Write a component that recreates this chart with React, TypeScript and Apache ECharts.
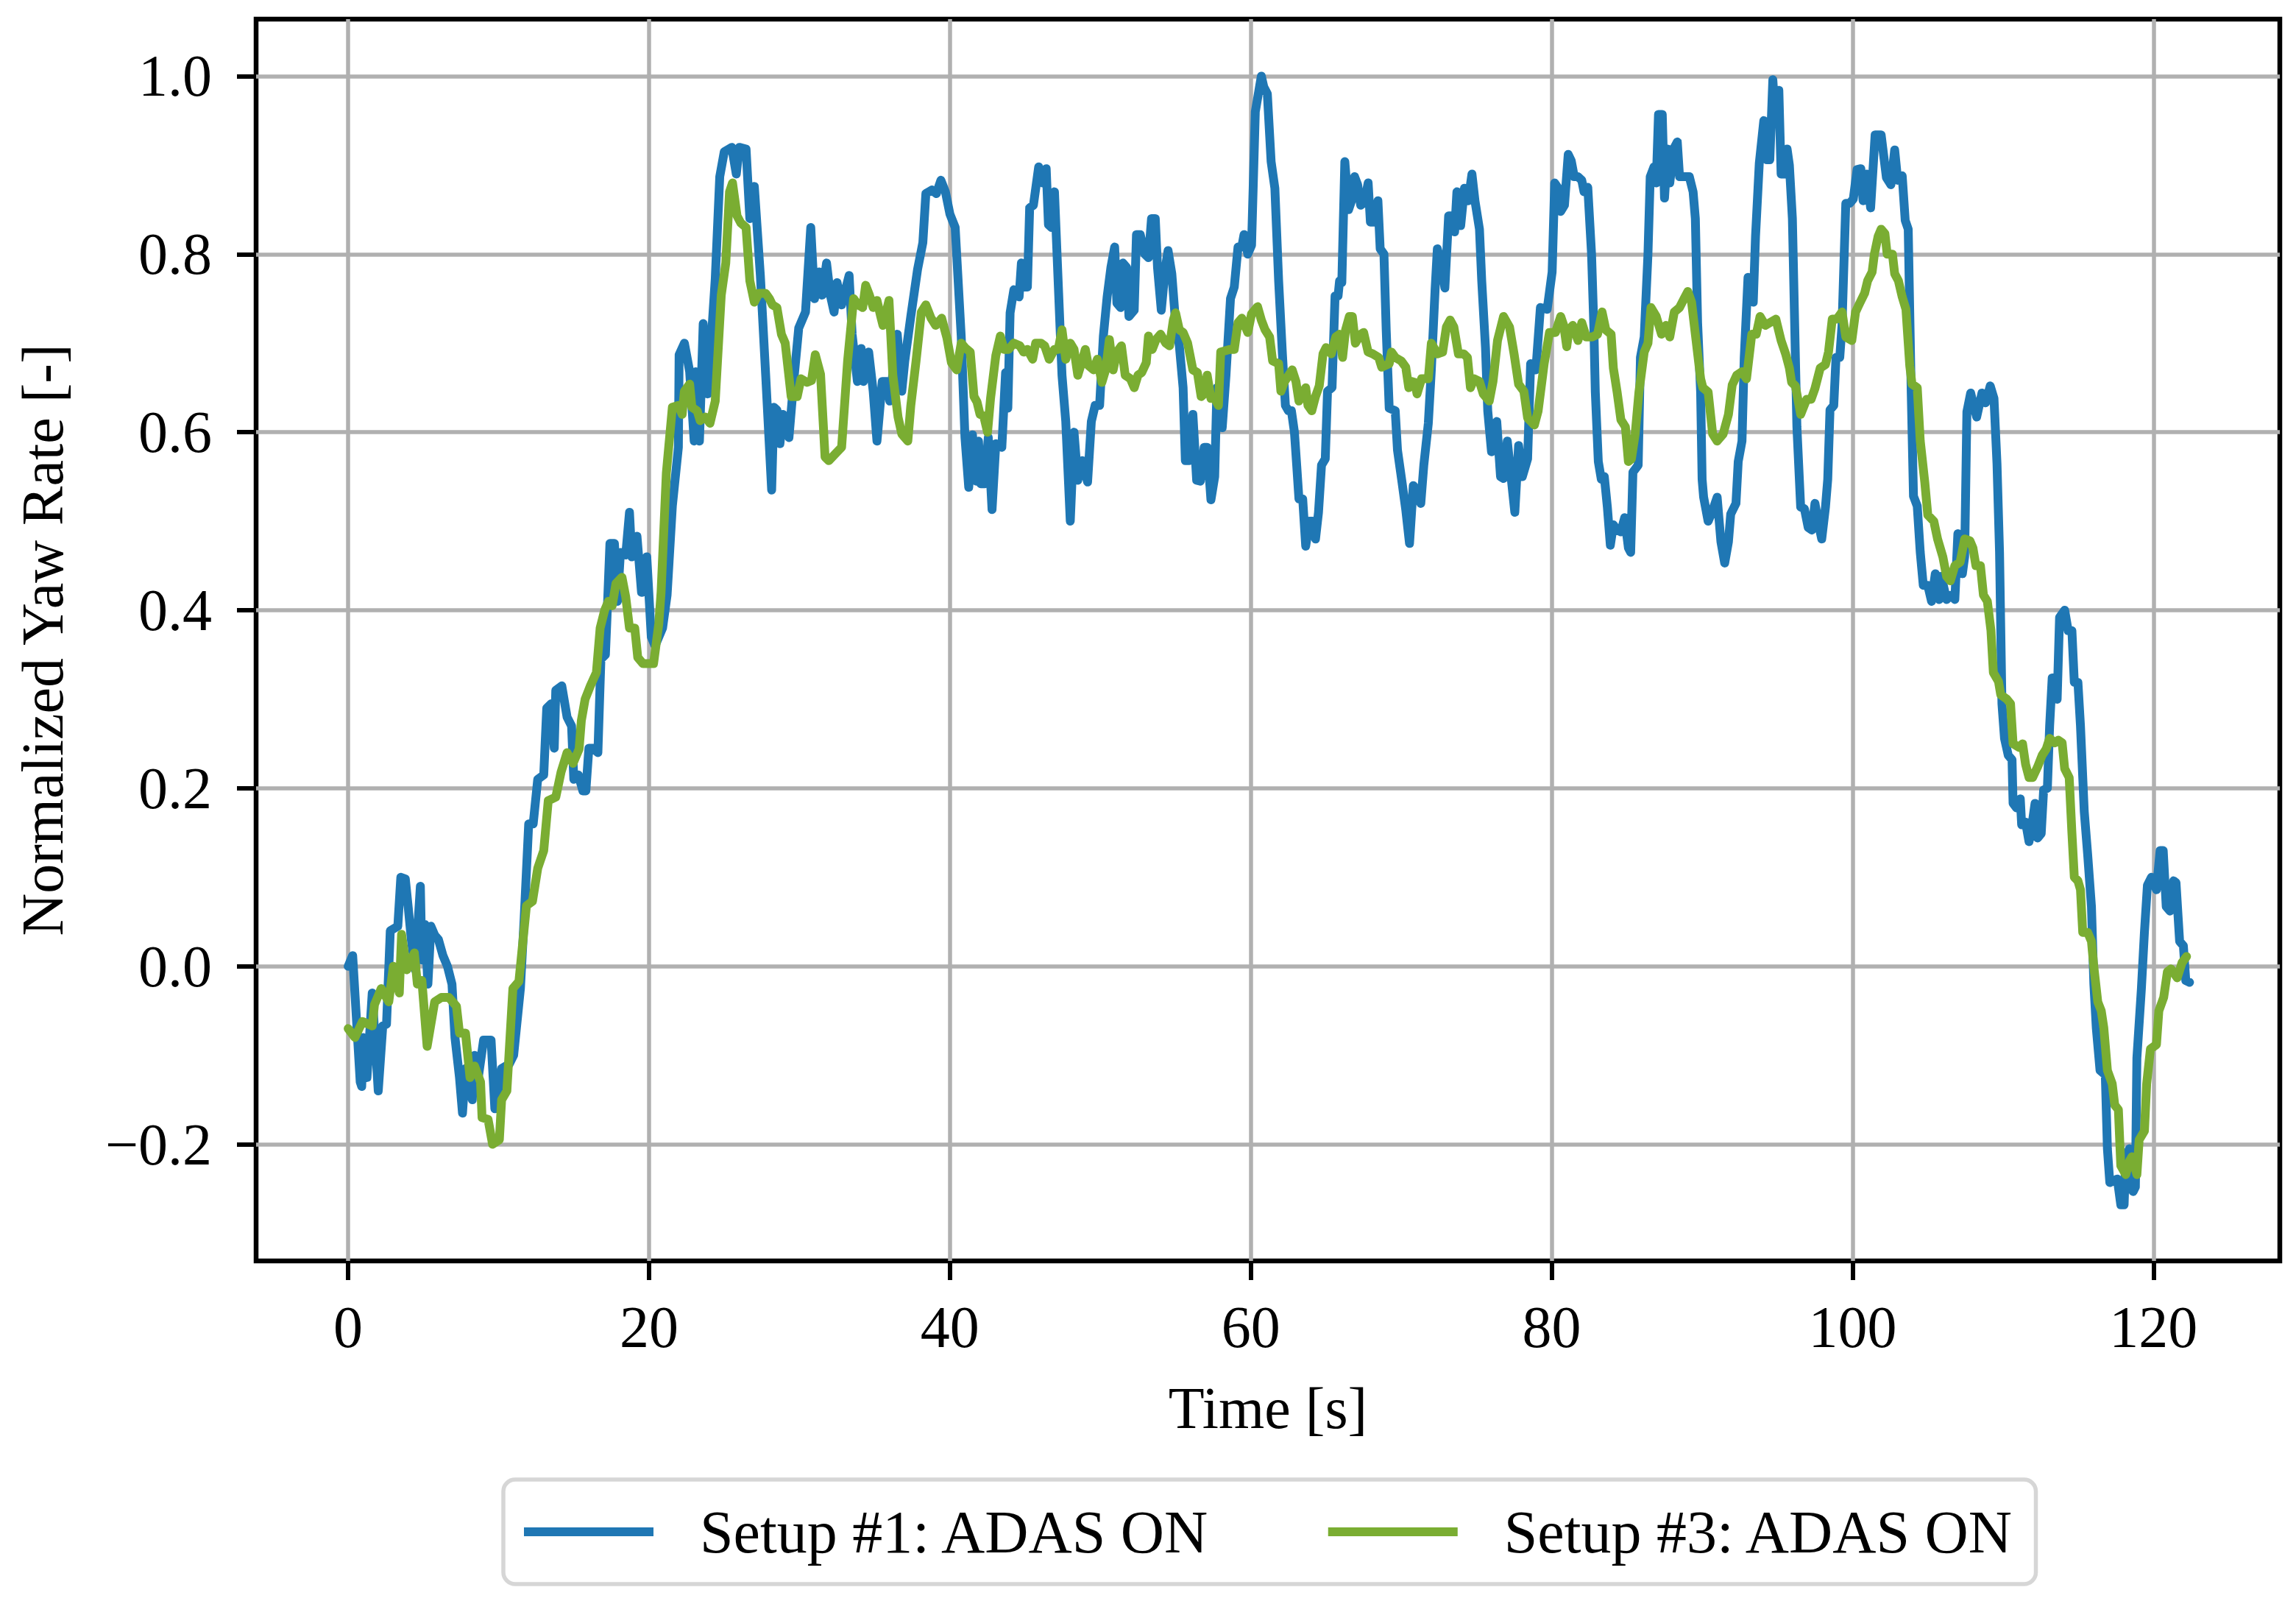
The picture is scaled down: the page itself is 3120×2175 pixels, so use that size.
import React, { useEffect, useRef } from 'react';
import * as echarts from 'echarts';

// time [s], normalized yaw rate [-]
const setup1Data: [number, number][] = [
  [0, 0.0], [0.3, 0.012], [0.8, -0.13], [0.9, -0.135], [1.0, -0.08], [1.25, -0.125], [1.6, -0.03],
  [2.0, -0.14], [2.3, -0.067], [2.55, -0.065], [2.8, 0.04], [3.3, 0.045], [3.5, 0.1], [3.8, 0.098],
  [4.0, 0.065], [4.2, 0.03], [4.45, -0.004], [4.8, 0.09], [4.9, 0.007], [5.1, 0.047], [5.3, -0.02],
  [5.5, 0.045], [5.75, 0.035], [6.0, 0.03], [6.3, 0.012], [6.6, 0.0], [6.9, -0.02], [7.1, -0.08],
  [7.4, -0.125], [7.6, -0.165], [7.8, -0.115], [8.0, -0.125], [8.25, -0.15], [8.4, -0.1], [8.65, -0.125],
  [9.0, -0.083], [9.5, -0.083], [9.75, -0.16], [10.05, -0.135], [10.2, -0.115], [10.7, -0.11], [11.0, -0.1],
  [11.45, -0.025], [11.7, 0.054], [12.0, 0.16], [12.3, 0.16], [12.6, 0.21], [13.0, 0.215], [13.2, 0.29],
  [13.5, 0.295], [13.7, 0.245], [13.8, 0.31], [14.2, 0.315], [14.55, 0.28], [14.85, 0.27], [15.0, 0.21],
  [15.3, 0.215], [15.6, 0.197], [15.8, 0.197], [16.0, 0.245], [16.3, 0.245], [16.6, 0.24], [16.8, 0.345],
  [17.1, 0.35], [17.2, 0.39], [17.4, 0.475], [17.7, 0.475], [17.9, 0.41], [18.1, 0.465], [18.45, 0.462],
  [18.7, 0.51], [18.85, 0.46], [19.2, 0.483], [19.5, 0.42], [19.85, 0.46], [20.15, 0.37], [20.4, 0.36],
  [20.9, 0.38], [21.2, 0.417], [21.55, 0.517], [21.95, 0.583], [22.0, 0.687], [22.35, 0.7], [22.7, 0.668],
  [23.0, 0.59], [23.1, 0.668], [23.35, 0.59], [23.6, 0.722], [23.9, 0.643], [24.4, 0.772], [24.7, 0.887],
  [25.0, 0.915], [25.5, 0.92], [25.8, 0.89], [26.0, 0.92], [26.45, 0.918], [26.7, 0.84], [27.0, 0.876],
  [27.4, 0.776], [27.75, 0.665], [28.15, 0.535], [28.3, 0.628], [28.5, 0.625], [28.7, 0.587], [28.9, 0.62],
  [29.3, 0.594], [29.6, 0.654], [29.95, 0.717], [30.4, 0.735], [30.75, 0.83], [31.0, 0.75], [31.3, 0.78],
  [31.5, 0.754], [31.8, 0.79], [32.05, 0.754], [32.3, 0.735], [32.5, 0.768], [32.8, 0.743], [33.3, 0.776],
  [33.5, 0.71], [33.85, 0.657], [34.1, 0.694], [34.25, 0.657], [34.6, 0.69], [34.9, 0.646], [35.15, 0.59],
  [35.5, 0.657], [35.8, 0.657], [36.0, 0.635], [36.5, 0.71], [36.8, 0.646], [37.0, 0.68], [37.4, 0.73],
  [37.85, 0.783], [38.2, 0.813], [38.4, 0.868], [38.8, 0.872], [39.1, 0.868], [39.4, 0.883], [39.7, 0.87],
  [40.0, 0.845], [40.35, 0.83], [40.75, 0.708], [41.0, 0.594], [41.25, 0.538], [41.5, 0.597], [41.75, 0.545],
  [41.9, 0.59], [42.05, 0.542], [42.3, 0.542], [42.55, 0.594], [42.8, 0.513], [43.05, 0.587], [43.45, 0.583],
  [43.7, 0.667], [43.85, 0.627], [44.0, 0.734], [44.25, 0.76], [44.6, 0.752], [44.75, 0.79], [45.0, 0.763],
  [45.15, 0.763], [45.3, 0.852], [45.55, 0.855], [45.9, 0.898], [46.15, 0.88], [46.4, 0.896], [46.55, 0.833],
  [46.75, 0.83], [46.95, 0.87], [47.2, 0.767], [47.45, 0.664], [47.7, 0.612], [48.0, 0.5], [48.25, 0.6],
  [48.5, 0.546], [48.8, 0.568], [49.15, 0.544], [49.4, 0.612], [49.65, 0.63], [49.95, 0.63], [50.2, 0.708],
  [50.45, 0.752], [50.7, 0.785], [50.95, 0.808], [51.1, 0.745], [51.35, 0.74], [51.5, 0.79], [51.75, 0.785],
  [51.9, 0.73], [52.25, 0.737], [52.4, 0.822], [52.65, 0.822], [52.95, 0.8], [53.2, 0.796], [53.4, 0.84],
  [53.65, 0.84], [53.8, 0.785], [54.05, 0.737], [54.3, 0.782], [54.5, 0.804], [54.75, 0.778], [55.0, 0.723],
  [55.25, 0.697], [55.5, 0.65], [55.65, 0.568], [55.9, 0.568], [56.15, 0.62], [56.4, 0.546], [56.65, 0.545],
  [56.9, 0.583], [57.1, 0.583], [57.35, 0.524], [57.6, 0.55], [57.75, 0.65], [58.1, 0.605], [58.35, 0.664],
  [58.65, 0.75], [58.9, 0.763], [59.15, 0.808], [59.4, 0.808], [59.55, 0.822], [59.8, 0.8], [60.05, 0.81],
  [60.3, 0.96], [60.55, 0.985], [60.7, 1.0], [60.86, 0.988], [61.1, 0.98], [61.35, 0.904], [61.6, 0.874],
  [61.85, 0.77], [62.1, 0.688], [62.3, 0.63], [62.5, 0.624], [62.7, 0.624], [62.9, 0.6], [63.05, 0.563],
  [63.2, 0.525], [63.45, 0.525], [63.65, 0.472], [63.9, 0.5], [64.1, 0.5], [64.3, 0.48], [64.5, 0.51],
  [64.7, 0.563], [64.95, 0.57], [65.1, 0.646], [65.4, 0.65], [65.6, 0.753], [65.8, 0.753], [65.9, 0.77],
  [66.05, 0.768], [66.25, 0.904], [66.5, 0.85], [66.7, 0.86], [66.9, 0.887], [67.1, 0.878], [67.3, 0.855],
  [67.55, 0.858], [67.8, 0.88], [67.95, 0.836], [68.2, 0.836], [68.45, 0.86], [68.6, 0.806], [68.85, 0.8],
  [69.0, 0.715], [69.2, 0.627], [69.6, 0.624], [69.75, 0.58], [70.05, 0.544], [70.3, 0.513], [70.55, 0.475],
  [70.8, 0.54], [71.0, 0.536], [71.3, 0.52], [71.5, 0.563], [71.8, 0.61], [72.0, 0.67], [72.25, 0.76],
  [72.4, 0.806], [72.65, 0.79], [72.9, 0.762], [73.15, 0.843], [73.35, 0.843], [73.55, 0.825], [73.7, 0.87],
  [73.95, 0.832], [74.2, 0.874], [74.45, 0.86], [74.7, 0.89], [74.9, 0.86], [75.2, 0.828], [75.35, 0.77],
  [75.6, 0.695], [75.75, 0.624], [76.0, 0.578], [76.35, 0.612], [76.6, 0.55], [76.8, 0.548], [77.05, 0.59],
  [77.3, 0.55], [77.55, 0.51], [77.8, 0.585], [78.05, 0.55], [78.4, 0.57], [78.6, 0.677], [78.95, 0.67],
  [79.25, 0.74], [79.7, 0.738], [80.03, 0.78], [80.2, 0.88], [80.4, 0.875], [80.6, 0.848], [80.85, 0.855],
  [81.1, 0.912], [81.3, 0.905], [81.5, 0.887], [81.75, 0.887], [82.0, 0.883], [82.15, 0.87], [82.4, 0.875],
  [82.65, 0.8], [82.8, 0.72], [82.9, 0.645], [83.1, 0.567], [83.3, 0.547], [83.5, 0.55], [83.7, 0.516],
  [83.9, 0.473], [84.1, 0.496], [84.35, 0.49], [84.6, 0.488], [84.85, 0.504], [85.1, 0.47], [85.25, 0.465],
  [85.4, 0.555], [85.75, 0.563], [85.9, 0.684], [86.15, 0.707], [86.4, 0.8], [86.55, 0.887], [86.8, 0.898],
  [86.95, 0.88], [87.1, 0.957], [87.35, 0.957], [87.5, 0.863], [87.7, 0.918], [87.85, 0.88], [88.1, 0.918],
  [88.35, 0.926], [88.5, 0.887], [89.15, 0.887], [89.4, 0.87], [89.55, 0.84], [89.7, 0.723], [89.9, 0.645],
  [90.0, 0.547], [90.1, 0.527], [90.4, 0.5], [90.7, 0.512], [91.0, 0.527], [91.25, 0.477], [91.5, 0.453],
  [91.75, 0.477], [91.9, 0.508], [92.25, 0.52], [92.4, 0.567], [92.65, 0.59], [92.8, 0.684], [93.05, 0.774],
  [93.4, 0.746], [93.55, 0.82], [93.8, 0.902], [94.1, 0.95], [94.3, 0.906], [94.5, 0.906], [94.7, 0.996],
  [94.85, 0.957], [95.1, 0.984], [95.25, 0.89], [95.5, 0.89], [95.65, 0.918], [95.8, 0.9], [96.0, 0.84],
  [96.15, 0.723], [96.3, 0.606], [96.55, 0.516], [96.8, 0.514], [97.05, 0.493], [97.3, 0.49], [97.5, 0.52],
  [97.75, 0.496], [97.95, 0.48], [98.2, 0.516], [98.35, 0.547], [98.5, 0.625], [98.75, 0.63], [98.9, 0.684],
  [99.15, 0.684], [99.3, 0.72], [99.55, 0.857], [99.8, 0.857], [100.05, 0.862], [100.3, 0.895], [100.55, 0.896],
  [100.7, 0.86], [100.95, 0.89], [101.2, 0.852], [101.5, 0.934], [101.9, 0.934], [102.25, 0.886], [102.55, 0.878],
  [102.8, 0.917], [103.0, 0.883], [103.3, 0.888], [103.5, 0.838], [103.7, 0.828], [103.9, 0.644], [104.05, 0.528],
  [104.3, 0.517], [104.5, 0.465], [104.7, 0.428], [105.0, 0.428], [105.25, 0.41], [105.5, 0.441], [105.75, 0.412],
  [105.9, 0.438], [106.25, 0.412], [106.55, 0.417], [106.8, 0.412], [107.0, 0.486], [107.3, 0.441], [107.45, 0.46],
  [107.6, 0.623], [107.85, 0.644], [108.05, 0.63], [108.25, 0.617], [108.6, 0.644], [108.85, 0.633], [109.15, 0.652],
  [109.4, 0.638], [109.6, 0.565], [109.77, 0.465], [109.93, 0.295], [110.1, 0.256], [110.35, 0.237], [110.6, 0.232],
  [110.67, 0.183], [110.9, 0.178], [111.15, 0.188], [111.24, 0.159], [111.5, 0.162], [111.73, 0.14], [111.97, 0.164],
  [112.13, 0.183], [112.3, 0.144], [112.54, 0.149], [112.7, 0.198], [112.95, 0.2], [113.1, 0.27], [113.27, 0.324],
  [113.45, 0.324], [113.6, 0.3], [113.76, 0.392], [114.1, 0.4], [114.33, 0.377], [114.58, 0.377], [114.74, 0.319],
  [114.98, 0.319], [115.15, 0.27], [115.4, 0.174], [115.63, 0.125], [115.88, 0.067], [116.04, -0.02], [116.2, -0.069],
  [116.45, -0.117], [116.8, -0.122], [116.94, -0.205], [117.1, -0.243], [117.6, -0.239], [117.83, -0.268],
  [118.05, -0.268], [118.16, -0.214], [118.4, -0.205], [118.65, -0.253], [118.8, -0.248], [118.9, -0.103],
  [119.2, -0.025], [119.4, 0.038], [119.6, 0.091], [119.87, 0.1], [120.2, 0.086], [120.44, 0.13], [120.65, 0.13],
  [120.85, 0.067], [121.1, 0.062], [121.34, 0.096], [121.5, 0.094], [121.74, 0.028], [121.99, 0.023],
  [122.15, -0.016], [122.4, -0.018],
];

const setup3Data: [number, number][] = [
  [0, -0.07], [0.45, -0.08], [0.95, -0.062], [1.6, -0.067], [1.75, -0.043], [2.2, -0.025], [2.7, -0.04],
  [3.0, 0.0], [3.4, -0.03], [3.55, 0.036], [3.9, -0.004], [4.4, 0.015], [4.6, -0.02], [4.9, -0.016],
  [5.25, -0.09], [5.75, -0.04], [6.2, -0.035], [6.7, -0.035], [7.2, -0.045], [7.4, -0.075], [7.8, -0.075],
  [8.1, -0.125], [8.4, -0.112], [8.8, -0.13], [8.9, -0.17], [9.3, -0.172], [9.6, -0.2], [10.05, -0.195],
  [10.2, -0.15], [10.55, -0.14], [10.95, -0.025], [11.35, -0.017], [11.85, 0.068], [12.25, 0.073], [12.6, 0.11],
  [13.0, 0.13], [13.3, 0.186], [13.8, 0.19], [14.15, 0.218], [14.55, 0.24], [14.95, 0.228], [15.35, 0.244],
  [15.5, 0.276], [15.75, 0.3], [16.1, 0.315], [16.5, 0.33], [16.75, 0.38], [17.05, 0.4], [17.3, 0.41],
  [17.55, 0.405], [17.8, 0.43], [18.2, 0.437], [18.45, 0.415], [18.7, 0.38], [19.05, 0.38], [19.25, 0.347],
  [19.6, 0.34], [20.3, 0.34], [20.65, 0.385], [20.8, 0.42], [21.15, 0.554], [21.55, 0.628], [21.95, 0.63],
  [22.2, 0.62], [22.35, 0.646], [22.7, 0.654], [22.85, 0.628], [23.2, 0.624], [23.4, 0.613], [23.75, 0.617],
  [24.05, 0.61], [24.4, 0.635], [24.8, 0.754], [25.1, 0.79], [25.35, 0.87], [25.55, 0.88], [25.85, 0.843],
  [26.1, 0.835], [26.45, 0.83], [26.7, 0.77], [27.0, 0.746], [27.3, 0.756], [27.75, 0.756], [28.0, 0.75],
  [28.2, 0.743], [28.5, 0.74], [28.8, 0.71], [29.05, 0.7], [29.45, 0.64], [29.85, 0.64], [30.1, 0.66],
  [30.5, 0.656], [30.8, 0.658], [31.05, 0.687], [31.4, 0.665], [31.7, 0.572], [31.95, 0.568], [32.4, 0.576],
  [32.8, 0.583], [33.2, 0.68], [33.6, 0.75], [33.9, 0.743], [34.2, 0.74], [34.4, 0.765], [34.65, 0.754],
  [34.9, 0.74], [35.15, 0.748], [35.4, 0.73], [35.55, 0.72], [35.95, 0.748], [36.2, 0.665], [36.55, 0.617],
  [36.8, 0.598], [37.2, 0.59], [37.4, 0.63], [37.75, 0.68], [38.1, 0.735], [38.4, 0.743], [38.75, 0.728],
  [39.05, 0.72], [39.45, 0.728], [39.8, 0.706], [40.1, 0.678], [40.45, 0.67], [40.75, 0.7], [41.0, 0.695],
  [41.35, 0.69], [41.6, 0.64], [41.8, 0.634], [42.0, 0.62], [42.25, 0.618], [42.5, 0.6], [42.7, 0.638],
  [43.05, 0.686], [43.35, 0.708], [43.6, 0.693], [43.9, 0.693], [44.25, 0.7], [44.65, 0.697], [44.9, 0.69],
  [45.15, 0.693], [45.5, 0.682], [45.7, 0.7], [46.05, 0.7], [46.3, 0.697], [46.6, 0.682], [46.95, 0.693],
  [47.2, 0.693], [47.45, 0.715], [47.7, 0.682], [48.0, 0.7], [48.25, 0.693], [48.5, 0.664], [48.75, 0.678],
  [49.0, 0.693], [49.2, 0.675], [49.55, 0.67], [49.8, 0.682], [50.1, 0.656], [50.35, 0.67], [50.6, 0.704],
  [50.85, 0.67], [51.1, 0.69], [51.4, 0.697], [51.65, 0.664], [52.0, 0.66], [52.25, 0.65], [52.5, 0.664],
  [52.75, 0.667], [53.05, 0.678], [53.2, 0.708], [53.45, 0.693], [53.7, 0.704], [54.0, 0.71], [54.35, 0.7],
  [54.6, 0.697], [54.85, 0.726], [55.0, 0.734], [55.25, 0.715], [55.5, 0.712], [55.8, 0.7], [56.15, 0.67],
  [56.45, 0.667], [56.7, 0.64], [56.9, 0.643], [57.1, 0.664], [57.35, 0.638], [57.6, 0.638], [57.85, 0.63],
  [58.0, 0.69], [58.6, 0.693], [58.9, 0.693], [59.15, 0.723], [59.4, 0.728], [59.8, 0.712], [60.05, 0.733],
  [60.45, 0.741], [60.7, 0.726], [60.95, 0.715], [61.25, 0.707], [61.45, 0.68], [61.85, 0.677], [62.0, 0.646],
  [62.25, 0.657], [62.75, 0.67], [63.0, 0.657], [63.2, 0.635], [63.65, 0.65], [63.8, 0.63], [64.05, 0.624],
  [64.3, 0.64], [64.55, 0.652], [64.8, 0.688], [65.0, 0.695], [65.35, 0.688], [65.65, 0.707], [65.9, 0.71],
  [66.1, 0.684], [66.3, 0.715], [66.55, 0.73], [66.75, 0.73], [66.95, 0.7], [67.3, 0.71], [67.5, 0.712],
  [67.8, 0.69], [68.1, 0.688], [68.5, 0.684], [68.7, 0.673], [69.2, 0.677], [69.35, 0.69], [69.6, 0.684],
  [70.0, 0.68], [70.3, 0.673], [70.5, 0.65], [70.7, 0.657], [70.9, 0.656], [71.05, 0.643], [71.35, 0.66],
  [71.8, 0.66], [72.0, 0.7], [72.4, 0.688], [72.75, 0.69], [73.0, 0.718], [73.25, 0.726], [73.5, 0.718],
  [73.8, 0.688], [74.15, 0.688], [74.4, 0.684], [74.6, 0.65], [74.85, 0.66], [75.2, 0.657], [75.45, 0.643],
  [75.85, 0.635], [76.1, 0.657], [76.4, 0.703], [76.8, 0.73], [77.2, 0.718], [77.5, 0.688], [77.8, 0.654],
  [78.15, 0.646], [78.4, 0.616], [78.85, 0.608], [79.1, 0.624], [79.5, 0.677], [79.85, 0.712], [80.25, 0.712],
  [80.6, 0.73], [80.8, 0.72], [81.0, 0.696], [81.15, 0.715], [81.4, 0.72], [81.75, 0.703], [82.0, 0.723],
  [82.3, 0.707], [82.7, 0.707], [83.05, 0.71], [83.35, 0.735], [83.6, 0.715], [83.95, 0.71], [84.1, 0.672],
  [84.35, 0.645], [84.6, 0.614], [84.9, 0.606], [85.1, 0.567], [85.3, 0.57], [85.55, 0.598], [85.8, 0.645],
  [86.15, 0.69], [86.4, 0.7], [86.6, 0.74], [86.95, 0.73], [87.3, 0.71], [87.6, 0.72], [87.85, 0.707],
  [88.15, 0.735], [88.5, 0.74], [88.8, 0.75], [89.05, 0.758], [89.3, 0.746], [89.55, 0.71], [89.9, 0.66],
  [90.05, 0.65], [90.4, 0.645], [90.7, 0.598], [91.0, 0.59], [91.4, 0.598], [91.75, 0.62], [92.0, 0.653],
  [92.3, 0.664], [92.65, 0.668], [92.95, 0.66], [93.3, 0.71], [93.6, 0.71], [93.85, 0.73], [94.2, 0.72],
  [94.5, 0.723], [94.9, 0.727], [95.25, 0.703], [95.55, 0.688], [95.8, 0.672], [95.95, 0.656], [96.2, 0.652],
  [96.55, 0.62], [96.95, 0.637], [97.25, 0.637], [97.5, 0.649], [97.85, 0.672], [98.2, 0.676], [98.4, 0.69],
  [98.65, 0.727], [98.95, 0.727], [99.3, 0.735], [99.55, 0.707], [99.95, 0.703], [100.2, 0.735], [100.45, 0.744],
  [100.8, 0.756], [101.0, 0.77], [101.3, 0.78], [101.45, 0.8], [101.7, 0.82], [101.9, 0.828], [102.15, 0.823],
  [102.3, 0.8], [102.65, 0.8], [102.8, 0.778], [103.05, 0.77], [103.3, 0.752], [103.55, 0.738], [103.8, 0.675],
  [103.95, 0.654], [104.3, 0.65], [104.5, 0.59], [104.8, 0.544], [105.0, 0.507], [105.4, 0.5], [105.65, 0.48],
  [106.0, 0.46], [106.25, 0.438], [106.5, 0.433], [106.8, 0.45], [107.15, 0.454], [107.45, 0.48], [107.8, 0.478],
  [108.0, 0.47], [108.2, 0.45], [108.5, 0.45], [108.7, 0.417], [108.96, 0.41], [109.2, 0.377], [109.36, 0.33],
  [109.7, 0.32], [109.85, 0.305], [110.26, 0.3], [110.5, 0.295], [110.67, 0.25], [111.07, 0.246], [111.3, 0.25],
  [111.5, 0.227], [111.73, 0.212], [111.97, 0.212], [112.3, 0.224], [112.6, 0.237], [112.87, 0.244], [113.1, 0.256],
  [113.44, 0.251], [113.68, 0.254], [113.93, 0.251], [114.1, 0.222], [114.4, 0.212], [114.58, 0.15], [114.74, 0.1],
  [114.98, 0.096], [115.15, 0.086], [115.3, 0.038], [115.63, 0.038], [115.88, 0.028], [116.04, -0.001],
  [116.3, -0.04], [116.53, -0.05], [116.7, -0.069], [116.94, -0.117], [117.26, -0.132], [117.43, -0.156],
  [117.67, -0.161], [117.83, -0.224], [118.16, -0.234], [118.4, -0.219], [118.57, -0.214], [118.9, -0.234],
  [119.05, -0.195], [119.4, -0.185], [119.55, -0.132], [119.8, -0.093], [120.2, -0.088], [120.36, -0.05],
  [120.68, -0.035], [120.93, -0.006], [121.17, -0.003], [121.58, -0.013], [121.9, 0.004], [122.2, 0.011],
];

const seriesNames = ['Setup #1: ADAS ON', 'Setup #3: ADAS ON'];
const seriesColors = ['#1f77b4', '#7aad32'];
const xTicks = [0, 20, 40, 60, 80, 100, 120];
const yTicks = [-0.2, 0, 0.2, 0.4, 0.6, 0.8, 1.0];

const FONT = "'Liberation Serif', 'DejaVu Serif', serif";

const YawRateChart: React.FC = () => {
  const chartRef = useRef<HTMLDivElement | null>(null);

  useEffect(() => {
    document.body.style.margin = '0';
    if (!chartRef.current) return;
    const chart = echarts.init(chartRef.current, undefined, { renderer: 'svg' });

    const option = {
      animation: false,
      backgroundColor: '#fff',
      grid: {
        left: 348,
        top: 26,
        width: 2750,
        height: 1687,
        show: true,
        borderColor: '#000',
        borderWidth: 6.5,
        backgroundColor: 'transparent',
        outerBoundsMode: 'none',
      },
      legend: {
        left: 684,
        top: 2010,
        orient: 'horizontal',
        data: seriesNames,
        icon: 'rect',
        itemWidth: 176,
        itemHeight: 12,
        itemGap: 159,
        padding: [30, 28, 30, 28],
        borderColor: '#d6d6d6',
        borderWidth: 5.5,
        borderRadius: 16,
        backgroundColor: '#fff',
        textStyle: {
          fontFamily: FONT,
          fontSize: 82,
          color: '#000',
          padding: [0, 0, 0, 58],
        },
      },
      xAxis: {
        type: 'value',
        min: -6.12,
        max: 128.4,
        name: 'Time [s]',
        nameLocation: 'middle',
        nameGap: 160,
        nameTextStyle: { fontFamily: FONT, fontSize: 80, color: '#000' },
        axisLine: { show: false, onZero: false },
        axisTick: {
          show: true,
          customValues: xTicks,
          length: 26,
          lineStyle: { color: '#000', width: 6 },
        },
        axisLabel: {
          customValues: xTicks,
          fontFamily: FONT,
          fontSize: 80,
          color: '#000',
          margin: 50,
        },
        splitLine: {
          show: true,
          customValues: xTicks,
          lineStyle: { color: '#b0b0b0', width: 5.5 },
        },
      },
      yAxis: {
        type: 'value',
        min: -0.331,
        max: 1.064,
        name: 'Normalized Yaw Rate [-]',
        nameLocation: 'middle',
        nameRotate: 90,
        nameGap: 250,
        nameTextStyle: { fontFamily: FONT, fontSize: 80, color: '#000' },
        axisLine: { show: false, onZero: false },
        axisTick: {
          show: true,
          customValues: yTicks,
          length: 26,
          lineStyle: { color: '#000', width: 6 },
        },
        axisLabel: {
          customValues: yTicks,
          fontFamily: FONT,
          fontSize: 80,
          color: '#000',
          margin: 60,
          formatter: (v: number) => (v < -1e-9 ? '\u2212' : '') + Math.abs(v).toFixed(1),
        },
        splitLine: {
          show: true,
          customValues: yTicks,
          lineStyle: { color: '#b0b0b0', width: 5.5 },
        },
      },
      series: [setup1Data, setup3Data].map((d, i) => ({
        name: seriesNames[i],
        type: 'line',
        data: d,
        showSymbol: false,
        symbol: 'none',
        color: seriesColors[i],
        lineStyle: { color: seriesColors[i], width: 12, join: 'round', cap: 'round' },
        z: 3 + i,
      })),
    };

    chart.setOption(option);

    return () => {
      chart.dispose();
    };
  }, []);

  return <div ref={chartRef} style={{ width: '3120px', height: '2175px' }} />;
};

export default function App() {
  return <YawRateChart />;
}
